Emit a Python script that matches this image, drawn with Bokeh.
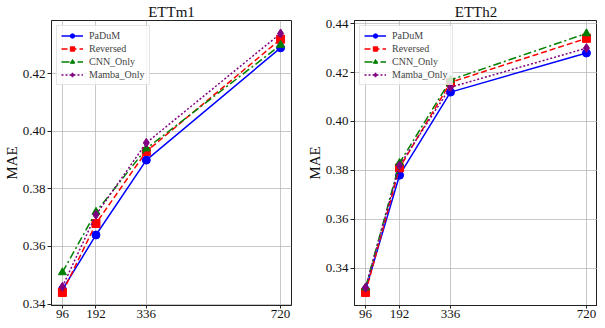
from bokeh.plotting import figure
from bokeh.layouts import row
from bokeh.models import FixedTicker, PrintfTickFormatter, Range1d
from bokeh.embed import file_html
from bokeh.resources import INLINE

horizons = [96, 192, 336, 720]
x_tick_labels = ["96", "192", "336", "720"]
series_names = ["PaDuM", "Reversed", "CNN_Only", "Mamba_Only"]

ettm1_paduM = [0.345, 0.364, 0.390, 0.429]
ettm1_reversed = [0.344, 0.368, 0.393, 0.432]
ettm1_cnn_only = [0.351, 0.372, 0.394, 0.430]
ettm1_mamba_only = [0.346, 0.371, 0.396, 0.434]
ettm1_yticks = [0.34, 0.36, 0.38, 0.40, 0.42]

etth2_paduM = [0.331, 0.378, 0.412, 0.428]
etth2_reversed = [0.330, 0.381, 0.416, 0.434]
etth2_cnn_only = [0.332, 0.383, 0.417, 0.436]
etth2_mamba_only = [0.332, 0.382, 0.414, 0.430]
etth2_yticks = [0.34, 0.36, 0.38, 0.40, 0.42, 0.44]

colors = ["#0000ff", "#ff0000", "#008000", "#800080"]
dashes = ["solid", "6 3", "8 3 2 3", "2 2"]
markers = ["circle", "square", "triangle", "diamond"]
msizes = [8, 8, 8, 9]

FONT = "Liberation Serif"


def make(title, series, yticks, width, mbl, mbr):
    allv = [v for s in series for v in s]
    lo, hi = min(allv), max(allv)
    pad = (hi - lo) * 0.05
    xpad = (max(horizons) - min(horizons)) * 0.05
    p = figure(width=width, height=320, output_backend="svg", toolbar_location=None,
               x_range=Range1d(min(horizons) - xpad, max(horizons) + xpad),
               y_range=Range1d(lo - pad, hi + pad),
               min_border_left=mbl, min_border_right=mbr, min_border_top=0,
               min_border_bottom=0)
    p.title.text = title
    p.title.align = "center"
    p.title.text_font = FONT
    p.title.text_font_size = "15px"
    p.title.text_font_style = "normal"
    p.title.text_color = "#111111"
    p.title.standoff = 2
    p.title.offset = 0
    p.outline_line_color = "#222222"
    p.outline_line_width = 1
    for i, s in enumerate(series):
        p.line(horizons, s, line_color=colors[i], line_width=1.5, line_dash=dashes[i],
               legend_label=series_names[i])
        p.scatter(horizons, s, marker=markers[i], size=msizes[i], fill_color=colors[i],
                  line_color=colors[i], legend_label=series_names[i])
    p.xaxis.ticker = FixedTicker(ticks=horizons)
    p.xaxis.major_label_overrides = {h: l for h, l in zip(horizons, x_tick_labels)}
    p.xaxis.axis_label_standoff = 0
    p.yaxis.ticker = FixedTicker(ticks=yticks)
    p.yaxis.formatter = PrintfTickFormatter(format="%.2f")
    p.yaxis.axis_label = "MAE"
    p.yaxis.axis_label_text_font = FONT
    p.yaxis.axis_label_text_font_size = "15px"
    p.yaxis.axis_label_text_font_style = "normal"
    p.yaxis.axis_label_text_color = "#111111"
    p.yaxis.axis_label_standoff = 0
    p.axis.major_label_text_font = FONT
    p.axis.major_label_text_font_size = "13px"
    p.axis.major_label_text_color = "#111111"
    p.axis.major_tick_in = 0
    p.axis.major_tick_out = 4
    p.axis.minor_tick_line_color = None
    p.axis.axis_line_color = "#222222"
    p.axis.major_tick_line_color = "#222222"
    p.axis.major_label_standoff = 2
    p.xaxis.major_tick_out = 3
    p.xaxis.major_label_standoff = 1
    p.grid.grid_line_color = "#b0b0b0"
    p.grid.grid_line_width = 1
    p.grid.grid_line_alpha = 0.7
    lg = p.legend[0]
    lg.location = "top_left"
    lg.label_text_font = FONT
    lg.label_text_font_size = "10px"
    lg.label_height = 11
    lg.glyph_height = 11
    lg.glyph_width = 22
    lg.spacing = 2
    lg.padding = 4
    lg.margin = 5
    lg.label_standoff = 6
    lg.border_line_color = "#cccccc"
    lg.background_fill_alpha = 0.8
    return p


p1 = make("ETTm1", [ettm1_paduM, ettm1_reversed, ettm1_cnn_only, ettm1_mamba_only],
          ettm1_yticks, 303, 45, 12)
p2 = make("ETTh2", [etth2_paduM, etth2_reversed, etth2_cnn_only, etth2_mamba_only],
          etth2_yticks, 294, 51, 0)

p = row(p1, p2)
open("out.html", "w").write(file_html(p, INLINE))
